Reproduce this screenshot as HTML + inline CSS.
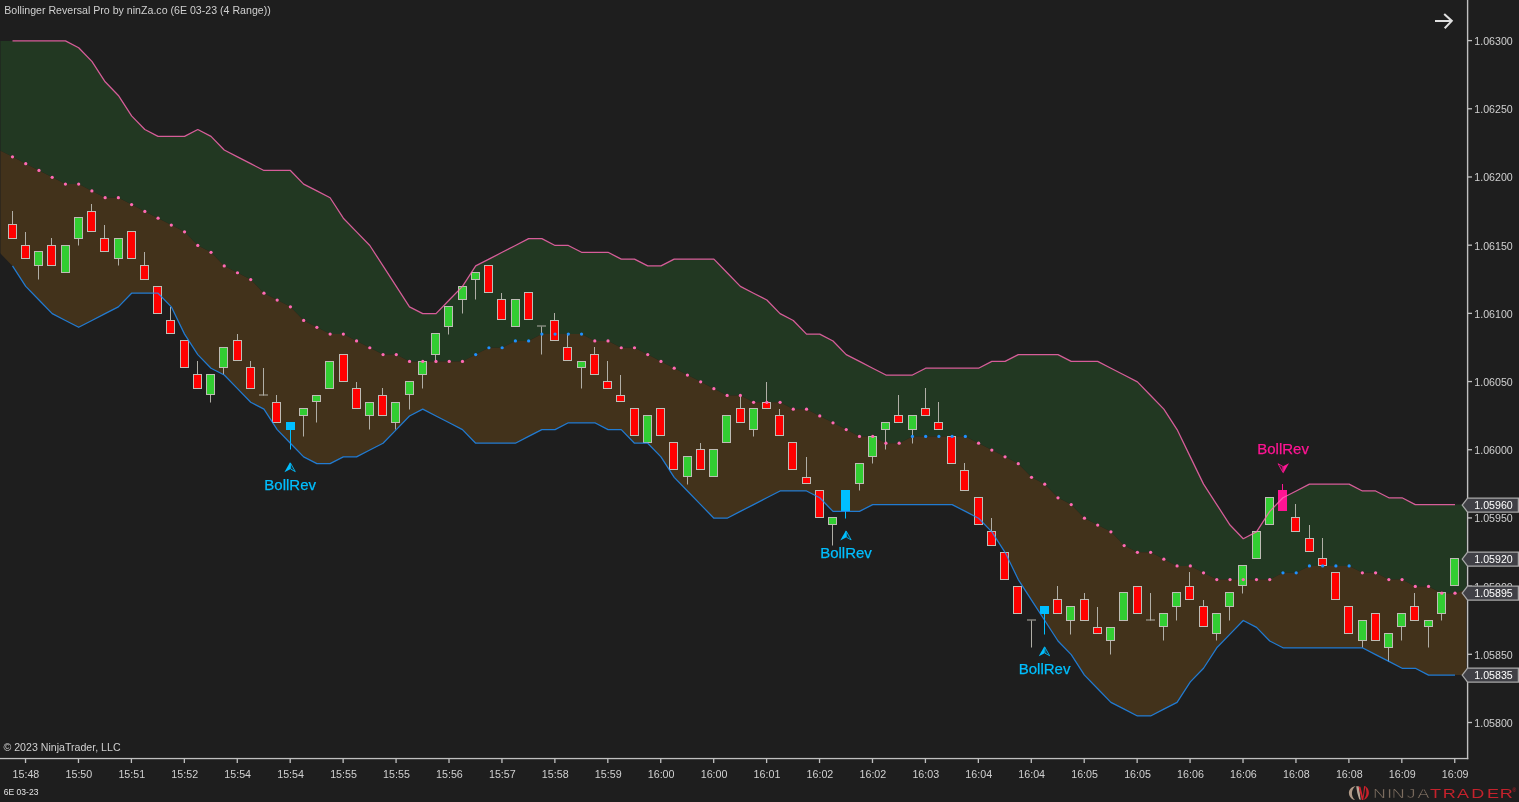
<!DOCTYPE html>
<html lang="en"><head><meta charset="utf-8"><title>Bollinger Reversal Pro by ninZa.co</title>
<style>html,body{margin:0;padding:0;background:#1e1e1e;overflow:hidden}svg{display:block}</style></head>
<body>
<svg width="1519" height="802" viewBox="0 0 1519 802" font-family="'Liberation Sans', Arial, sans-serif">
<rect width="1519" height="802" fill="#1e1e1e"/>
<clipPath id="plot"><rect x="0.5" y="0" width="1466" height="758.7"/></clipPath>
<g clip-path="url(#plot)">
<polygon points="-0.73,40.9 12.5,40.9 25.73,40.9 38.97,40.9 52.2,40.9 65.44,40.9 78.67,47.72 91.9,61.36 105.14,81.81 118.37,95.45 131.61,115.91 144.84,129.55 158.07,136.37 171.31,136.37 184.54,136.37 197.78,129.55 211.01,136.37 224.24,150 237.48,156.82 250.71,163.64 263.95,170.46 277.18,170.46 290.41,170.46 303.65,184.1 316.88,190.92 330.12,197.74 343.35,218.19 356.58,231.83 369.82,245.47 383.05,265.93 396.29,286.38 409.52,306.84 422.75,313.66 435.99,313.66 449.22,300.02 462.46,286.38 475.69,265.93 488.92,259.11 502.16,252.29 515.39,245.47 528.63,238.65 541.86,238.65 555.09,245.47 568.33,245.47 581.56,252.29 594.8,252.29 608.03,252.29 621.26,259.11 634.5,259.11 647.73,265.93 660.97,265.93 674.2,259.11 687.43,259.11 700.67,259.11 713.9,259.11 727.14,272.75 740.37,286.38 753.6,293.2 766.84,300.02 780.07,313.66 793.31,320.48 806.54,334.12 819.77,334.12 833.01,340.94 846.24,354.57 859.48,361.39 872.71,368.21 885.94,375.03 899.18,375.03 912.41,375.03 925.65,368.21 938.88,368.21 952.11,368.21 965.35,368.21 978.58,368.21 991.82,361.39 1005.05,361.39 1018.28,354.57 1031.52,354.57 1044.75,354.57 1057.99,354.57 1071.22,361.39 1084.45,361.39 1097.69,361.39 1110.92,368.21 1124.16,375.03 1137.39,381.85 1150.62,395.49 1163.86,409.13 1177.09,429.58 1190.33,456.86 1203.56,484.13 1216.79,504.59 1230.03,525.05 1243.26,538.69 1256.5,531.87 1269.73,511.41 1282.96,497.77 1296.2,490.95 1309.43,484.13 1322.67,484.13 1335.9,484.13 1349.13,484.13 1362.37,490.95 1375.6,490.95 1388.84,497.77 1402.07,497.77 1415.3,504.59 1428.54,504.59 1441.77,504.59 1455.01,504.59 1468.24,504.59 1468.24,589.15 1455.01,593.24 1441.77,593.24 1428.54,586.42 1415.3,586.42 1402.07,579.6 1388.84,579.6 1375.6,572.78 1362.37,572.78 1349.13,565.96 1335.9,565.96 1322.67,565.96 1309.43,565.96 1296.2,572.78 1282.96,572.78 1269.73,579.6 1256.5,579.6 1243.26,579.6 1230.03,579.6 1216.79,579.6 1203.56,572.78 1190.33,565.96 1177.09,565.96 1163.86,559.14 1150.62,552.33 1137.39,552.33 1124.16,545.51 1110.92,531.87 1097.69,525.05 1084.45,518.23 1071.22,504.59 1057.99,497.77 1044.75,484.13 1031.52,477.32 1018.28,463.68 1005.05,456.86 991.82,450.04 978.58,443.22 965.35,436.4 952.11,436.4 938.88,436.4 925.65,436.4 912.41,436.4 899.18,443.22 885.94,443.22 872.71,436.4 859.48,436.4 846.24,429.58 833.01,422.76 819.77,415.94 806.54,409.13 793.31,409.13 780.07,402.31 766.84,402.31 753.6,402.31 740.37,395.49 727.14,395.49 713.9,388.67 700.67,381.85 687.43,375.03 674.2,368.21 660.97,361.39 647.73,354.57 634.5,347.75 621.26,347.75 608.03,340.94 594.8,340.94 581.56,334.12 568.33,334.12 555.09,334.12 541.86,334.12 528.63,340.94 515.39,340.94 502.16,347.75 488.92,347.75 475.69,354.57 462.46,361.39 449.22,361.39 435.99,361.39 422.75,361.39 409.52,361.39 396.29,354.57 383.05,354.57 369.82,347.75 356.58,340.94 343.35,334.12 330.12,334.12 316.88,327.3 303.65,320.48 290.41,306.84 277.18,300.02 263.95,293.2 250.71,279.56 237.48,272.75 224.24,265.93 211.01,252.29 197.78,245.47 184.54,231.83 171.31,225.01 158.07,218.19 144.84,211.38 131.61,204.56 118.37,197.74 105.14,197.74 91.9,190.92 78.67,184.1 65.44,184.1 52.2,177.28 38.97,170.46 25.73,163.64 12.5,156.82 -0.73,150" fill="#223822"/>
<polygon points="-0.73,150 12.5,156.82 25.73,163.64 38.97,170.46 52.2,177.28 65.44,184.1 78.67,184.1 91.9,190.92 105.14,197.74 118.37,197.74 131.61,204.56 144.84,211.38 158.07,218.19 171.31,225.01 184.54,231.83 197.78,245.47 211.01,252.29 224.24,265.93 237.48,272.75 250.71,279.56 263.95,293.2 277.18,300.02 290.41,306.84 303.65,320.48 316.88,327.3 330.12,334.12 343.35,334.12 356.58,340.94 369.82,347.75 383.05,354.57 396.29,354.57 409.52,361.39 422.75,361.39 435.99,361.39 449.22,361.39 462.46,361.39 475.69,354.57 488.92,347.75 502.16,347.75 515.39,340.94 528.63,340.94 541.86,334.12 555.09,334.12 568.33,334.12 581.56,334.12 594.8,340.94 608.03,340.94 621.26,347.75 634.5,347.75 647.73,354.57 660.97,361.39 674.2,368.21 687.43,375.03 700.67,381.85 713.9,388.67 727.14,395.49 740.37,395.49 753.6,402.31 766.84,402.31 780.07,402.31 793.31,409.13 806.54,409.13 819.77,415.94 833.01,422.76 846.24,429.58 859.48,436.4 872.71,436.4 885.94,443.22 899.18,443.22 912.41,436.4 925.65,436.4 938.88,436.4 952.11,436.4 965.35,436.4 978.58,443.22 991.82,450.04 1005.05,456.86 1018.28,463.68 1031.52,477.32 1044.75,484.13 1057.99,497.77 1071.22,504.59 1084.45,518.23 1097.69,525.05 1110.92,531.87 1124.16,545.51 1137.39,552.33 1150.62,552.33 1163.86,559.14 1177.09,565.96 1190.33,565.96 1203.56,572.78 1216.79,579.6 1230.03,579.6 1243.26,579.6 1256.5,579.6 1269.73,579.6 1282.96,572.78 1296.2,572.78 1309.43,565.96 1322.67,565.96 1335.9,565.96 1349.13,565.96 1362.37,572.78 1375.6,572.78 1388.84,579.6 1402.07,579.6 1415.3,586.42 1428.54,586.42 1441.77,593.24 1455.01,593.24 1468.24,589.15 1468.24,675.07 1455.01,675.07 1441.77,675.07 1428.54,675.07 1415.3,668.25 1402.07,668.25 1388.84,661.43 1375.6,654.61 1362.37,647.79 1349.13,647.79 1335.9,647.79 1322.67,647.79 1309.43,647.79 1296.2,647.79 1282.96,647.79 1269.73,640.97 1256.5,627.33 1243.26,620.51 1230.03,634.15 1216.79,647.79 1203.56,668.25 1190.33,681.89 1177.09,702.34 1163.86,709.16 1150.62,715.98 1137.39,715.98 1124.16,709.16 1110.92,702.34 1097.69,688.7 1084.45,675.07 1071.22,654.61 1057.99,640.97 1044.75,620.51 1031.52,600.06 1018.28,579.6 1005.05,552.33 991.82,531.87 978.58,518.23 965.35,511.41 952.11,504.59 938.88,504.59 925.65,504.59 912.41,504.59 899.18,504.59 885.94,504.59 872.71,504.59 859.48,511.41 846.24,511.41 833.01,511.41 819.77,497.77 806.54,490.95 793.31,490.95 780.07,490.95 766.84,497.77 753.6,504.59 740.37,511.41 727.14,518.23 713.9,518.23 700.67,504.59 687.43,490.95 674.2,477.32 660.97,456.86 647.73,443.22 634.5,443.22 621.26,429.58 608.03,429.58 594.8,422.76 581.56,422.76 568.33,422.76 555.09,429.58 541.86,429.58 528.63,436.4 515.39,443.22 502.16,443.22 488.92,443.22 475.69,443.22 462.46,429.58 449.22,422.76 435.99,415.94 422.75,409.13 409.52,415.94 396.29,429.58 383.05,443.22 369.82,450.04 356.58,456.86 343.35,456.86 330.12,463.68 316.88,463.68 303.65,456.86 290.41,443.22 277.18,429.58 263.95,409.13 250.71,402.31 237.48,388.67 224.24,375.03 211.01,368.21 197.78,354.57 184.54,334.12 171.31,306.84 158.07,293.2 144.84,293.2 131.61,293.2 118.37,306.84 105.14,313.66 91.9,320.48 78.67,327.3 65.44,320.48 52.2,313.66 38.97,300.02 25.73,286.38 12.5,265.93 -0.73,252.29" fill="#42321b"/>
</g>
<g shape-rendering="auto">
<rect x="12" y="211" width="1" height="13.5" fill="#b0aea6"/>
<rect x="8.5" y="224.5" width="8" height="14" fill="#ff0000" stroke="#bebcb5" stroke-width="1"/>
<rect x="25" y="232" width="1" height="13.5" fill="#b0aea6"/>
<rect x="21.5" y="245.5" width="8" height="13" fill="#ff0000" stroke="#bebcb5" stroke-width="1"/>
<rect x="38" y="265.5" width="1" height="14" fill="#b0aea6"/>
<rect x="34.5" y="251.5" width="8" height="14" fill="#32cd32" stroke="#bebcb5" stroke-width="1"/>
<rect x="51" y="238" width="1" height="7.5" fill="#b0aea6"/>
<rect x="47.5" y="245.5" width="8" height="20" fill="#ff0000" stroke="#bebcb5" stroke-width="1"/>
<rect x="61.5" y="245.5" width="8" height="27" fill="#32cd32" stroke="#bebcb5" stroke-width="1"/>
<rect x="78" y="238.5" width="1" height="7" fill="#b0aea6"/>
<rect x="74.5" y="217.5" width="8" height="21" fill="#32cd32" stroke="#bebcb5" stroke-width="1"/>
<rect x="91" y="204" width="1" height="7.5" fill="#b0aea6"/>
<rect x="87.5" y="211.5" width="8" height="20" fill="#ff0000" stroke="#bebcb5" stroke-width="1"/>
<rect x="104" y="225" width="1" height="13.5" fill="#b0aea6"/>
<rect x="100.5" y="238.5" width="8" height="13" fill="#ff0000" stroke="#bebcb5" stroke-width="1"/>
<rect x="118" y="258.5" width="1" height="7" fill="#b0aea6"/>
<rect x="114.5" y="238.5" width="8" height="20" fill="#32cd32" stroke="#bebcb5" stroke-width="1"/>
<rect x="127.5" y="231.5" width="8" height="27" fill="#ff0000" stroke="#bebcb5" stroke-width="1"/>
<rect x="144" y="252" width="1" height="13.5" fill="#b0aea6"/>
<rect x="140.5" y="265.5" width="8" height="14" fill="#ff0000" stroke="#bebcb5" stroke-width="1"/>
<rect x="153.5" y="286.5" width="8" height="27" fill="#ff0000" stroke="#bebcb5" stroke-width="1"/>
<rect x="170" y="307" width="1" height="13.5" fill="#b0aea6"/>
<rect x="166.5" y="320.5" width="8" height="13" fill="#ff0000" stroke="#bebcb5" stroke-width="1"/>
<rect x="180.5" y="340.5" width="8" height="27" fill="#ff0000" stroke="#bebcb5" stroke-width="1"/>
<rect x="197" y="361" width="1" height="13.5" fill="#b0aea6"/>
<rect x="193.5" y="374.5" width="8" height="14" fill="#ff0000" stroke="#bebcb5" stroke-width="1"/>
<rect x="210" y="394.5" width="1" height="8" fill="#b0aea6"/>
<rect x="206.5" y="374.5" width="8" height="20" fill="#32cd32" stroke="#bebcb5" stroke-width="1"/>
<rect x="223" y="367.5" width="1" height="7" fill="#b0aea6"/>
<rect x="219.5" y="347.5" width="8" height="20" fill="#32cd32" stroke="#bebcb5" stroke-width="1"/>
<rect x="237" y="334" width="1" height="6.5" fill="#b0aea6"/>
<rect x="233.5" y="340.5" width="8" height="20" fill="#ff0000" stroke="#bebcb5" stroke-width="1"/>
<rect x="250" y="361" width="1" height="6.5" fill="#b0aea6"/>
<rect x="246.5" y="367.5" width="8" height="21" fill="#ff0000" stroke="#bebcb5" stroke-width="1"/>
<rect x="263" y="368" width="1" height="27.5" fill="#b0aea6"/>
<rect x="259" y="394.5" width="9" height="1" fill="#b0aea6"/>
<rect x="276" y="395" width="1" height="7.5" fill="#b0aea6"/>
<rect x="272.5" y="402.5" width="8" height="20" fill="#ff0000" stroke="#bebcb5" stroke-width="1"/>
<rect x="290" y="429.5" width="1" height="20" fill="#00bfff"/>
<rect x="286.5" y="422.5" width="8" height="7" fill="#00bfff" stroke="#00bfff" stroke-width="1"/>
<rect x="303" y="415.5" width="1" height="21" fill="#b0aea6"/>
<rect x="299.5" y="408.5" width="8" height="7" fill="#32cd32" stroke="#bebcb5" stroke-width="1"/>
<rect x="316" y="401.5" width="1" height="21" fill="#b0aea6"/>
<rect x="312.5" y="395.5" width="8" height="6" fill="#32cd32" stroke="#bebcb5" stroke-width="1"/>
<rect x="325.5" y="361.5" width="8" height="27" fill="#32cd32" stroke="#bebcb5" stroke-width="1"/>
<rect x="339.5" y="354.5" width="8" height="27" fill="#ff0000" stroke="#bebcb5" stroke-width="1"/>
<rect x="356" y="382" width="1" height="6.5" fill="#b0aea6"/>
<rect x="352.5" y="388.5" width="8" height="20" fill="#ff0000" stroke="#bebcb5" stroke-width="1"/>
<rect x="369" y="415.5" width="1" height="14" fill="#b0aea6"/>
<rect x="365.5" y="402.5" width="8" height="13" fill="#32cd32" stroke="#bebcb5" stroke-width="1"/>
<rect x="382" y="388" width="1" height="7.5" fill="#b0aea6"/>
<rect x="378.5" y="395.5" width="8" height="20" fill="#ff0000" stroke="#bebcb5" stroke-width="1"/>
<rect x="395" y="422.5" width="1" height="7" fill="#b0aea6"/>
<rect x="391.5" y="402.5" width="8" height="20" fill="#32cd32" stroke="#bebcb5" stroke-width="1"/>
<rect x="409" y="394.5" width="1" height="15" fill="#b0aea6"/>
<rect x="405.5" y="381.5" width="8" height="13" fill="#32cd32" stroke="#bebcb5" stroke-width="1"/>
<rect x="422" y="374.5" width="1" height="14" fill="#b0aea6"/>
<rect x="418.5" y="361.5" width="8" height="13" fill="#32cd32" stroke="#bebcb5" stroke-width="1"/>
<rect x="435" y="354.5" width="1" height="7" fill="#b0aea6"/>
<rect x="431.5" y="333.5" width="8" height="21" fill="#32cd32" stroke="#bebcb5" stroke-width="1"/>
<rect x="448" y="326.5" width="1" height="8" fill="#b0aea6"/>
<rect x="444.5" y="306.5" width="8" height="20" fill="#32cd32" stroke="#bebcb5" stroke-width="1"/>
<rect x="462" y="299.5" width="1" height="14" fill="#b0aea6"/>
<rect x="458.5" y="286.5" width="8" height="13" fill="#32cd32" stroke="#bebcb5" stroke-width="1"/>
<rect x="475" y="279.5" width="1" height="20" fill="#b0aea6"/>
<rect x="471.5" y="272.5" width="8" height="7" fill="#32cd32" stroke="#bebcb5" stroke-width="1"/>
<rect x="484.5" y="265.5" width="8" height="27" fill="#ff0000" stroke="#bebcb5" stroke-width="1"/>
<rect x="501" y="293" width="1" height="6.5" fill="#b0aea6"/>
<rect x="497.5" y="299.5" width="8" height="20" fill="#ff0000" stroke="#bebcb5" stroke-width="1"/>
<rect x="511.5" y="299.5" width="8" height="27" fill="#32cd32" stroke="#bebcb5" stroke-width="1"/>
<rect x="524.5" y="292.5" width="8" height="27" fill="#ff0000" stroke="#bebcb5" stroke-width="1"/>
<rect x="541" y="326.5" width="1" height="28" fill="#b0aea6"/>
<rect x="537" y="325.5" width="9" height="1" fill="#b0aea6"/>
<rect x="554" y="313" width="1" height="7.5" fill="#b0aea6"/>
<rect x="550.5" y="320.5" width="8" height="20" fill="#ff0000" stroke="#bebcb5" stroke-width="1"/>
<rect x="567" y="334" width="1" height="13.5" fill="#b0aea6"/>
<rect x="563.5" y="347.5" width="8" height="13" fill="#ff0000" stroke="#bebcb5" stroke-width="1"/>
<rect x="581" y="367.5" width="1" height="21" fill="#b0aea6"/>
<rect x="577.5" y="361.5" width="8" height="6" fill="#32cd32" stroke="#bebcb5" stroke-width="1"/>
<rect x="594" y="347" width="1" height="7.5" fill="#b0aea6"/>
<rect x="590.5" y="354.5" width="8" height="20" fill="#ff0000" stroke="#bebcb5" stroke-width="1"/>
<rect x="607" y="361" width="1" height="20.5" fill="#b0aea6"/>
<rect x="603.5" y="381.5" width="8" height="7" fill="#ff0000" stroke="#bebcb5" stroke-width="1"/>
<rect x="620" y="375" width="1" height="20.5" fill="#b0aea6"/>
<rect x="616.5" y="395.5" width="8" height="6" fill="#ff0000" stroke="#bebcb5" stroke-width="1"/>
<rect x="630.5" y="408.5" width="8" height="27" fill="#ff0000" stroke="#bebcb5" stroke-width="1"/>
<rect x="643.5" y="415.5" width="8" height="27" fill="#32cd32" stroke="#bebcb5" stroke-width="1"/>
<rect x="656.5" y="408.5" width="8" height="27" fill="#ff0000" stroke="#bebcb5" stroke-width="1"/>
<rect x="669.5" y="442.5" width="8" height="27" fill="#ff0000" stroke="#bebcb5" stroke-width="1"/>
<rect x="687" y="476.5" width="1" height="8" fill="#b0aea6"/>
<rect x="683.5" y="456.5" width="8" height="20" fill="#32cd32" stroke="#bebcb5" stroke-width="1"/>
<rect x="700" y="443" width="1" height="6.5" fill="#b0aea6"/>
<rect x="696.5" y="449.5" width="8" height="20" fill="#ff0000" stroke="#bebcb5" stroke-width="1"/>
<rect x="709.5" y="449.5" width="8" height="27" fill="#32cd32" stroke="#bebcb5" stroke-width="1"/>
<rect x="722.5" y="415.5" width="8" height="27" fill="#32cd32" stroke="#bebcb5" stroke-width="1"/>
<rect x="740" y="395" width="1" height="13.5" fill="#b0aea6"/>
<rect x="736.5" y="408.5" width="8" height="14" fill="#ff0000" stroke="#bebcb5" stroke-width="1"/>
<rect x="753" y="429.5" width="1" height="7" fill="#b0aea6"/>
<rect x="749.5" y="408.5" width="8" height="21" fill="#32cd32" stroke="#bebcb5" stroke-width="1"/>
<rect x="766" y="382" width="1" height="20.5" fill="#b0aea6"/>
<rect x="762.5" y="402.5" width="8" height="6" fill="#ff0000" stroke="#bebcb5" stroke-width="1"/>
<rect x="779" y="409" width="1" height="6.5" fill="#b0aea6"/>
<rect x="775.5" y="415.5" width="8" height="20" fill="#ff0000" stroke="#bebcb5" stroke-width="1"/>
<rect x="788.5" y="442.5" width="8" height="27" fill="#ff0000" stroke="#bebcb5" stroke-width="1"/>
<rect x="806" y="457" width="1" height="20.5" fill="#b0aea6"/>
<rect x="802.5" y="477.5" width="8" height="6" fill="#ff0000" stroke="#bebcb5" stroke-width="1"/>
<rect x="815.5" y="490.5" width="8" height="27" fill="#ff0000" stroke="#bebcb5" stroke-width="1"/>
<rect x="832" y="524.5" width="1" height="21" fill="#b0aea6"/>
<rect x="828.5" y="517.5" width="8" height="7" fill="#32cd32" stroke="#bebcb5" stroke-width="1"/>
<rect x="845" y="510.5" width="1" height="8" fill="#00bfff"/>
<rect x="841.5" y="490.5" width="8" height="20" fill="#00bfff" stroke="#00bfff" stroke-width="1"/>
<rect x="859" y="483.5" width="1" height="7" fill="#b0aea6"/>
<rect x="855.5" y="463.5" width="8" height="20" fill="#32cd32" stroke="#bebcb5" stroke-width="1"/>
<rect x="872" y="456.5" width="1" height="7" fill="#b0aea6"/>
<rect x="868.5" y="436.5" width="8" height="20" fill="#32cd32" stroke="#bebcb5" stroke-width="1"/>
<rect x="885" y="429.5" width="1" height="20" fill="#b0aea6"/>
<rect x="881.5" y="422.5" width="8" height="7" fill="#32cd32" stroke="#bebcb5" stroke-width="1"/>
<rect x="898" y="395" width="1" height="20.5" fill="#b0aea6"/>
<rect x="894.5" y="415.5" width="8" height="7" fill="#ff0000" stroke="#bebcb5" stroke-width="1"/>
<rect x="912" y="429.5" width="1" height="14" fill="#b0aea6"/>
<rect x="908.5" y="415.5" width="8" height="14" fill="#32cd32" stroke="#bebcb5" stroke-width="1"/>
<rect x="925" y="388" width="1" height="20.5" fill="#b0aea6"/>
<rect x="921.5" y="408.5" width="8" height="7" fill="#ff0000" stroke="#bebcb5" stroke-width="1"/>
<rect x="938" y="402" width="1" height="20.5" fill="#b0aea6"/>
<rect x="934.5" y="422.5" width="8" height="7" fill="#ff0000" stroke="#bebcb5" stroke-width="1"/>
<rect x="947.5" y="436.5" width="8" height="27" fill="#ff0000" stroke="#bebcb5" stroke-width="1"/>
<rect x="964" y="463" width="1" height="7.5" fill="#b0aea6"/>
<rect x="960.5" y="470.5" width="8" height="20" fill="#ff0000" stroke="#bebcb5" stroke-width="1"/>
<rect x="974.5" y="497.5" width="8" height="27" fill="#ff0000" stroke="#bebcb5" stroke-width="1"/>
<rect x="991" y="518" width="1" height="13.5" fill="#b0aea6"/>
<rect x="987.5" y="531.5" width="8" height="14" fill="#ff0000" stroke="#bebcb5" stroke-width="1"/>
<rect x="1000.5" y="552.5" width="8" height="27" fill="#ff0000" stroke="#bebcb5" stroke-width="1"/>
<rect x="1013.5" y="586.5" width="8" height="27" fill="#ff0000" stroke="#bebcb5" stroke-width="1"/>
<rect x="1031" y="620.5" width="1" height="27" fill="#b0aea6"/>
<rect x="1027" y="619.5" width="9" height="1" fill="#b0aea6"/>
<rect x="1044" y="613.5" width="1" height="21" fill="#00bfff"/>
<rect x="1040.5" y="606.5" width="8" height="7" fill="#00bfff" stroke="#00bfff" stroke-width="1"/>
<rect x="1057" y="586" width="1" height="13.5" fill="#b0aea6"/>
<rect x="1053.5" y="599.5" width="8" height="14" fill="#ff0000" stroke="#bebcb5" stroke-width="1"/>
<rect x="1070" y="620.5" width="1" height="14" fill="#b0aea6"/>
<rect x="1066.5" y="606.5" width="8" height="14" fill="#32cd32" stroke="#bebcb5" stroke-width="1"/>
<rect x="1084" y="593" width="1" height="6.5" fill="#b0aea6"/>
<rect x="1080.5" y="599.5" width="8" height="21" fill="#ff0000" stroke="#bebcb5" stroke-width="1"/>
<rect x="1097" y="607" width="1" height="20.5" fill="#b0aea6"/>
<rect x="1093.5" y="627.5" width="8" height="6" fill="#ff0000" stroke="#bebcb5" stroke-width="1"/>
<rect x="1110" y="640.5" width="1" height="14" fill="#b0aea6"/>
<rect x="1106.5" y="627.5" width="8" height="13" fill="#32cd32" stroke="#bebcb5" stroke-width="1"/>
<rect x="1119.5" y="592.5" width="8" height="28" fill="#32cd32" stroke="#bebcb5" stroke-width="1"/>
<rect x="1133.5" y="586.5" width="8" height="27" fill="#ff0000" stroke="#bebcb5" stroke-width="1"/>
<rect x="1150" y="593" width="1" height="27.5" fill="#b0aea6"/>
<rect x="1146" y="619.5" width="9" height="1" fill="#b0aea6"/>
<rect x="1163" y="626.5" width="1" height="14" fill="#b0aea6"/>
<rect x="1159.5" y="613.5" width="8" height="13" fill="#32cd32" stroke="#bebcb5" stroke-width="1"/>
<rect x="1176" y="606.5" width="1" height="14" fill="#b0aea6"/>
<rect x="1172.5" y="592.5" width="8" height="14" fill="#32cd32" stroke="#bebcb5" stroke-width="1"/>
<rect x="1189" y="572" width="1" height="14.5" fill="#b0aea6"/>
<rect x="1185.5" y="586.5" width="8" height="13" fill="#ff0000" stroke="#bebcb5" stroke-width="1"/>
<rect x="1203" y="600" width="1" height="6.5" fill="#b0aea6"/>
<rect x="1199.5" y="606.5" width="8" height="20" fill="#ff0000" stroke="#bebcb5" stroke-width="1"/>
<rect x="1216" y="633.5" width="1" height="7" fill="#b0aea6"/>
<rect x="1212.5" y="613.5" width="8" height="20" fill="#32cd32" stroke="#bebcb5" stroke-width="1"/>
<rect x="1229" y="606.5" width="1" height="14" fill="#b0aea6"/>
<rect x="1225.5" y="592.5" width="8" height="14" fill="#32cd32" stroke="#bebcb5" stroke-width="1"/>
<rect x="1242" y="585.5" width="1" height="8" fill="#b0aea6"/>
<rect x="1238.5" y="565.5" width="8" height="20" fill="#32cd32" stroke="#bebcb5" stroke-width="1"/>
<rect x="1252.5" y="531.5" width="8" height="27" fill="#32cd32" stroke="#bebcb5" stroke-width="1"/>
<rect x="1265.5" y="497.5" width="8" height="27" fill="#32cd32" stroke="#bebcb5" stroke-width="1"/>
<rect x="1282" y="484" width="1" height="6.5" fill="#ff1493"/>
<rect x="1278.5" y="490.5" width="8" height="20" fill="#ff1493" stroke="#ff1493" stroke-width="1"/>
<rect x="1295" y="504" width="1" height="13.5" fill="#b0aea6"/>
<rect x="1291.5" y="517.5" width="8" height="14" fill="#ff0000" stroke="#bebcb5" stroke-width="1"/>
<rect x="1309" y="525" width="1" height="13.5" fill="#b0aea6"/>
<rect x="1305.5" y="538.5" width="8" height="13" fill="#ff0000" stroke="#bebcb5" stroke-width="1"/>
<rect x="1322" y="538" width="1" height="20.5" fill="#b0aea6"/>
<rect x="1318.5" y="558.5" width="8" height="7" fill="#ff0000" stroke="#bebcb5" stroke-width="1"/>
<rect x="1331.5" y="572.5" width="8" height="27" fill="#ff0000" stroke="#bebcb5" stroke-width="1"/>
<rect x="1344.5" y="606.5" width="8" height="27" fill="#ff0000" stroke="#bebcb5" stroke-width="1"/>
<rect x="1362" y="640.5" width="1" height="7" fill="#b0aea6"/>
<rect x="1358.5" y="620.5" width="8" height="20" fill="#32cd32" stroke="#bebcb5" stroke-width="1"/>
<rect x="1371.5" y="613.5" width="8" height="27" fill="#ff0000" stroke="#bebcb5" stroke-width="1"/>
<rect x="1388" y="647.5" width="1" height="14" fill="#b0aea6"/>
<rect x="1384.5" y="633.5" width="8" height="14" fill="#32cd32" stroke="#bebcb5" stroke-width="1"/>
<rect x="1401" y="626.5" width="1" height="14" fill="#b0aea6"/>
<rect x="1397.5" y="613.5" width="8" height="13" fill="#32cd32" stroke="#bebcb5" stroke-width="1"/>
<rect x="1414" y="593" width="1" height="13.5" fill="#b0aea6"/>
<rect x="1410.5" y="606.5" width="8" height="14" fill="#ff0000" stroke="#bebcb5" stroke-width="1"/>
<rect x="1428" y="626.5" width="1" height="21" fill="#b0aea6"/>
<rect x="1424.5" y="620.5" width="8" height="6" fill="#32cd32" stroke="#bebcb5" stroke-width="1"/>
<rect x="1441" y="613.5" width="1" height="7" fill="#b0aea6"/>
<rect x="1437.5" y="592.5" width="8" height="21" fill="#32cd32" stroke="#bebcb5" stroke-width="1"/>
<rect x="1450.5" y="558.5" width="8" height="27" fill="#32cd32" stroke="#bebcb5" stroke-width="1"/>
</g>
<polyline points="12.5,40.9 25.73,40.9 38.97,40.9 52.2,40.9 65.44,40.9 78.67,47.72 91.9,61.36 105.14,81.81 118.37,95.45 131.61,115.91 144.84,129.55 158.07,136.37 171.31,136.37 184.54,136.37 197.78,129.55 211.01,136.37 224.24,150 237.48,156.82 250.71,163.64 263.95,170.46 277.18,170.46 290.41,170.46 303.65,184.1 316.88,190.92 330.12,197.74 343.35,218.19 356.58,231.83 369.82,245.47 383.05,265.93 396.29,286.38 409.52,306.84 422.75,313.66 435.99,313.66 449.22,300.02 462.46,286.38 475.69,265.93 488.92,259.11 502.16,252.29 515.39,245.47 528.63,238.65 541.86,238.65 555.09,245.47 568.33,245.47 581.56,252.29 594.8,252.29 608.03,252.29 621.26,259.11 634.5,259.11 647.73,265.93 660.97,265.93 674.2,259.11 687.43,259.11 700.67,259.11 713.9,259.11 727.14,272.75 740.37,286.38 753.6,293.2 766.84,300.02 780.07,313.66 793.31,320.48 806.54,334.12 819.77,334.12 833.01,340.94 846.24,354.57 859.48,361.39 872.71,368.21 885.94,375.03 899.18,375.03 912.41,375.03 925.65,368.21 938.88,368.21 952.11,368.21 965.35,368.21 978.58,368.21 991.82,361.39 1005.05,361.39 1018.28,354.57 1031.52,354.57 1044.75,354.57 1057.99,354.57 1071.22,361.39 1084.45,361.39 1097.69,361.39 1110.92,368.21 1124.16,375.03 1137.39,381.85 1150.62,395.49 1163.86,409.13 1177.09,429.58 1190.33,456.86 1203.56,484.13 1216.79,504.59 1230.03,525.05 1243.26,538.69 1256.5,531.87 1269.73,511.41 1282.96,497.77 1296.2,490.95 1309.43,484.13 1322.67,484.13 1335.9,484.13 1349.13,484.13 1362.37,490.95 1375.6,490.95 1388.84,497.77 1402.07,497.77 1415.3,504.59 1428.54,504.59 1441.77,504.59 1455.01,504.59" fill="none" stroke="#ff69b4" stroke-width="1.25" stroke-linejoin="round" stroke-opacity="0.82"/>
<polyline points="12.5,265.93 25.73,286.38 38.97,300.02 52.2,313.66 65.44,320.48 78.67,327.3 91.9,320.48 105.14,313.66 118.37,306.84 131.61,293.2 144.84,293.2 158.07,293.2 171.31,306.84 184.54,334.12 197.78,354.57 211.01,368.21 224.24,375.03 237.48,388.67 250.71,402.31 263.95,409.13 277.18,429.58 290.41,443.22 303.65,456.86 316.88,463.68 330.12,463.68 343.35,456.86 356.58,456.86 369.82,450.04 383.05,443.22 396.29,429.58 409.52,415.94 422.75,409.13 435.99,415.94 449.22,422.76 462.46,429.58 475.69,443.22 488.92,443.22 502.16,443.22 515.39,443.22 528.63,436.4 541.86,429.58 555.09,429.58 568.33,422.76 581.56,422.76 594.8,422.76 608.03,429.58 621.26,429.58 634.5,443.22 647.73,443.22 660.97,456.86 674.2,477.32 687.43,490.95 700.67,504.59 713.9,518.23 727.14,518.23 740.37,511.41 753.6,504.59 766.84,497.77 780.07,490.95 793.31,490.95 806.54,490.95 819.77,497.77 833.01,511.41 846.24,511.41 859.48,511.41 872.71,504.59 885.94,504.59 899.18,504.59 912.41,504.59 925.65,504.59 938.88,504.59 952.11,504.59 965.35,511.41 978.58,518.23 991.82,531.87 1005.05,552.33 1018.28,579.6 1031.52,600.06 1044.75,620.51 1057.99,640.97 1071.22,654.61 1084.45,675.07 1097.69,688.7 1110.92,702.34 1124.16,709.16 1137.39,715.98 1150.62,715.98 1163.86,709.16 1177.09,702.34 1190.33,681.89 1203.56,668.25 1216.79,647.79 1230.03,634.15 1243.26,620.51 1256.5,627.33 1269.73,640.97 1282.96,647.79 1296.2,647.79 1309.43,647.79 1322.67,647.79 1335.9,647.79 1349.13,647.79 1362.37,647.79 1375.6,654.61 1388.84,661.43 1402.07,668.25 1415.3,668.25 1428.54,675.07 1441.77,675.07 1455.01,675.07" fill="none" stroke="#1e90ff" stroke-width="1.25" stroke-linejoin="round" stroke-opacity="0.8"/>
<circle cx="12.5" cy="156.82" r="1.62" fill="#ff69b4"/>
<circle cx="25.73" cy="163.64" r="1.62" fill="#ff69b4"/>
<circle cx="38.97" cy="170.46" r="1.62" fill="#ff69b4"/>
<circle cx="52.2" cy="177.28" r="1.62" fill="#ff69b4"/>
<circle cx="65.44" cy="184.1" r="1.62" fill="#ff69b4"/>
<circle cx="78.67" cy="184.1" r="1.62" fill="#ff69b4"/>
<circle cx="91.9" cy="190.92" r="1.62" fill="#ff69b4"/>
<circle cx="105.14" cy="197.74" r="1.62" fill="#ff69b4"/>
<circle cx="118.37" cy="197.74" r="1.62" fill="#ff69b4"/>
<circle cx="131.61" cy="204.56" r="1.62" fill="#ff69b4"/>
<circle cx="144.84" cy="211.38" r="1.62" fill="#ff69b4"/>
<circle cx="158.07" cy="218.19" r="1.62" fill="#ff69b4"/>
<circle cx="171.31" cy="225.01" r="1.62" fill="#ff69b4"/>
<circle cx="184.54" cy="231.83" r="1.62" fill="#ff69b4"/>
<circle cx="197.78" cy="245.47" r="1.62" fill="#ff69b4"/>
<circle cx="211.01" cy="252.29" r="1.62" fill="#ff69b4"/>
<circle cx="224.24" cy="265.93" r="1.62" fill="#ff69b4"/>
<circle cx="237.48" cy="272.75" r="1.62" fill="#ff69b4"/>
<circle cx="250.71" cy="279.56" r="1.62" fill="#ff69b4"/>
<circle cx="263.95" cy="293.2" r="1.62" fill="#ff69b4"/>
<circle cx="277.18" cy="300.02" r="1.62" fill="#ff69b4"/>
<circle cx="290.41" cy="306.84" r="1.62" fill="#ff69b4"/>
<circle cx="303.65" cy="320.48" r="1.62" fill="#ff69b4"/>
<circle cx="316.88" cy="327.3" r="1.62" fill="#ff69b4"/>
<circle cx="330.12" cy="334.12" r="1.62" fill="#ff69b4"/>
<circle cx="343.35" cy="334.12" r="1.62" fill="#ff69b4"/>
<circle cx="356.58" cy="340.94" r="1.62" fill="#ff69b4"/>
<circle cx="369.82" cy="347.75" r="1.62" fill="#ff69b4"/>
<circle cx="383.05" cy="354.57" r="1.62" fill="#ff69b4"/>
<circle cx="396.29" cy="354.57" r="1.62" fill="#ff69b4"/>
<circle cx="409.52" cy="361.39" r="1.62" fill="#ff69b4"/>
<circle cx="422.75" cy="361.39" r="1.62" fill="#ff69b4"/>
<circle cx="435.99" cy="361.39" r="1.62" fill="#ff69b4"/>
<circle cx="449.22" cy="361.39" r="1.62" fill="#ff69b4"/>
<circle cx="462.46" cy="361.39" r="1.62" fill="#ff69b4"/>
<circle cx="475.69" cy="354.57" r="1.62" fill="#1e90ff"/>
<circle cx="488.92" cy="347.75" r="1.62" fill="#1e90ff"/>
<circle cx="502.16" cy="347.75" r="1.62" fill="#1e90ff"/>
<circle cx="515.39" cy="340.94" r="1.62" fill="#1e90ff"/>
<circle cx="528.63" cy="340.94" r="1.62" fill="#1e90ff"/>
<circle cx="541.86" cy="334.12" r="1.62" fill="#1e90ff"/>
<circle cx="555.09" cy="334.12" r="1.62" fill="#1e90ff"/>
<circle cx="568.33" cy="334.12" r="1.62" fill="#1e90ff"/>
<circle cx="581.56" cy="334.12" r="1.62" fill="#1e90ff"/>
<circle cx="594.8" cy="340.94" r="1.62" fill="#ff69b4"/>
<circle cx="608.03" cy="340.94" r="1.62" fill="#ff69b4"/>
<circle cx="621.26" cy="347.75" r="1.62" fill="#ff69b4"/>
<circle cx="634.5" cy="347.75" r="1.62" fill="#ff69b4"/>
<circle cx="647.73" cy="354.57" r="1.62" fill="#ff69b4"/>
<circle cx="660.97" cy="361.39" r="1.62" fill="#ff69b4"/>
<circle cx="674.2" cy="368.21" r="1.62" fill="#ff69b4"/>
<circle cx="687.43" cy="375.03" r="1.62" fill="#ff69b4"/>
<circle cx="700.67" cy="381.85" r="1.62" fill="#ff69b4"/>
<circle cx="713.9" cy="388.67" r="1.62" fill="#ff69b4"/>
<circle cx="727.14" cy="395.49" r="1.62" fill="#ff69b4"/>
<circle cx="740.37" cy="395.49" r="1.62" fill="#ff69b4"/>
<circle cx="753.6" cy="402.31" r="1.62" fill="#ff69b4"/>
<circle cx="766.84" cy="402.31" r="1.62" fill="#ff69b4"/>
<circle cx="780.07" cy="402.31" r="1.62" fill="#ff69b4"/>
<circle cx="793.31" cy="409.13" r="1.62" fill="#ff69b4"/>
<circle cx="806.54" cy="409.13" r="1.62" fill="#ff69b4"/>
<circle cx="819.77" cy="415.94" r="1.62" fill="#ff69b4"/>
<circle cx="833.01" cy="422.76" r="1.62" fill="#ff69b4"/>
<circle cx="846.24" cy="429.58" r="1.62" fill="#ff69b4"/>
<circle cx="859.48" cy="436.4" r="1.62" fill="#ff69b4"/>
<circle cx="872.71" cy="436.4" r="1.62" fill="#ff69b4"/>
<circle cx="885.94" cy="443.22" r="1.62" fill="#ff69b4"/>
<circle cx="899.18" cy="443.22" r="1.62" fill="#ff69b4"/>
<circle cx="912.41" cy="436.4" r="1.62" fill="#1e90ff"/>
<circle cx="925.65" cy="436.4" r="1.62" fill="#1e90ff"/>
<circle cx="938.88" cy="436.4" r="1.62" fill="#1e90ff"/>
<circle cx="952.11" cy="436.4" r="1.62" fill="#1e90ff"/>
<circle cx="965.35" cy="436.4" r="1.62" fill="#1e90ff"/>
<circle cx="978.58" cy="443.22" r="1.62" fill="#ff69b4"/>
<circle cx="991.82" cy="450.04" r="1.62" fill="#ff69b4"/>
<circle cx="1005.05" cy="456.86" r="1.62" fill="#ff69b4"/>
<circle cx="1018.28" cy="463.68" r="1.62" fill="#ff69b4"/>
<circle cx="1031.52" cy="477.32" r="1.62" fill="#ff69b4"/>
<circle cx="1044.75" cy="484.13" r="1.62" fill="#ff69b4"/>
<circle cx="1057.99" cy="497.77" r="1.62" fill="#ff69b4"/>
<circle cx="1071.22" cy="504.59" r="1.62" fill="#ff69b4"/>
<circle cx="1084.45" cy="518.23" r="1.62" fill="#ff69b4"/>
<circle cx="1097.69" cy="525.05" r="1.62" fill="#ff69b4"/>
<circle cx="1110.92" cy="531.87" r="1.62" fill="#ff69b4"/>
<circle cx="1124.16" cy="545.51" r="1.62" fill="#ff69b4"/>
<circle cx="1137.39" cy="552.33" r="1.62" fill="#ff69b4"/>
<circle cx="1150.62" cy="552.33" r="1.62" fill="#ff69b4"/>
<circle cx="1163.86" cy="559.14" r="1.62" fill="#ff69b4"/>
<circle cx="1177.09" cy="565.96" r="1.62" fill="#ff69b4"/>
<circle cx="1190.33" cy="565.96" r="1.62" fill="#ff69b4"/>
<circle cx="1203.56" cy="572.78" r="1.62" fill="#ff69b4"/>
<circle cx="1216.79" cy="579.6" r="1.62" fill="#ff69b4"/>
<circle cx="1230.03" cy="579.6" r="1.62" fill="#ff69b4"/>
<circle cx="1243.26" cy="579.6" r="1.62" fill="#ff69b4"/>
<circle cx="1256.5" cy="579.6" r="1.62" fill="#ff69b4"/>
<circle cx="1269.73" cy="579.6" r="1.62" fill="#ff69b4"/>
<circle cx="1282.96" cy="572.78" r="1.62" fill="#1e90ff"/>
<circle cx="1296.2" cy="572.78" r="1.62" fill="#1e90ff"/>
<circle cx="1309.43" cy="565.96" r="1.62" fill="#1e90ff"/>
<circle cx="1322.67" cy="565.96" r="1.62" fill="#1e90ff"/>
<circle cx="1335.9" cy="565.96" r="1.62" fill="#1e90ff"/>
<circle cx="1349.13" cy="565.96" r="1.62" fill="#1e90ff"/>
<circle cx="1362.37" cy="572.78" r="1.62" fill="#ff69b4"/>
<circle cx="1375.6" cy="572.78" r="1.62" fill="#ff69b4"/>
<circle cx="1388.84" cy="579.6" r="1.62" fill="#ff69b4"/>
<circle cx="1402.07" cy="579.6" r="1.62" fill="#ff69b4"/>
<circle cx="1415.3" cy="586.42" r="1.62" fill="#ff69b4"/>
<circle cx="1428.54" cy="586.42" r="1.62" fill="#ff69b4"/>
<circle cx="1441.77" cy="593.24" r="1.62" fill="#ff69b4"/>
<circle cx="1455.01" cy="593.24" r="1.62" fill="#ff69b4"/>
<g transform="translate(290.21,467.14)" fill="#00bfff"><path d="M0,-5.2 L-5.8,5.1 L0,2.1 Z"/><path d="M0.2,-4.2 L5.1,4.5 L0.4,1.9 Z" fill="#00bfff" fill-opacity="0.12" stroke="#00bfff" stroke-width="0.85" stroke-linejoin="miter"/></g>
<text x="290.21" y="490" font-size="15" fill="#00bfff" stroke="#00bfff" stroke-width="0.25" text-anchor="middle">BollRev</text>
<g transform="translate(846.04,535.33)" fill="#00bfff"><path d="M0,-5.2 L-5.8,5.1 L0,2.1 Z"/><path d="M0.2,-4.2 L5.1,4.5 L0.4,1.9 Z" fill="#00bfff" fill-opacity="0.12" stroke="#00bfff" stroke-width="0.85" stroke-linejoin="miter"/></g>
<text x="846.04" y="558" font-size="15" fill="#00bfff" stroke="#00bfff" stroke-width="0.25" text-anchor="middle">BollRev</text>
<g transform="translate(1044.55,651.25)" fill="#00bfff"><path d="M0,-5.2 L-5.8,5.1 L0,2.1 Z"/><path d="M0.2,-4.2 L5.1,4.5 L0.4,1.9 Z" fill="#00bfff" fill-opacity="0.12" stroke="#00bfff" stroke-width="0.85" stroke-linejoin="miter"/></g>
<text x="1044.55" y="674" font-size="15" fill="#00bfff" stroke="#00bfff" stroke-width="0.25" text-anchor="middle">BollRev</text>
<g transform="translate(1283.16,468.24) rotate(180)" fill="#ff1493"><path d="M0,-5.2 L-5.8,5.1 L0,2.1 Z"/><path d="M0.2,-4.2 L5.1,4.5 L0.4,1.9 Z" fill="#ff1493" fill-opacity="0.12" stroke="#ff1493" stroke-width="0.85" stroke-linejoin="miter"/></g>
<text x="1283.06" y="454" font-size="15" fill="#ff1493" stroke="#ff1493" stroke-width="0.25" text-anchor="middle">BollRev</text>
<rect x="1466.9" y="0" width="1.4" height="759.2" fill="#c0c0c0"/>
<rect x="0" y="757.9" width="1468.3" height="1.3" fill="#c0c0c0"/>
<rect x="1468" y="39.95" width="4" height="1.3" fill="#c0c0c0"/>
<text x="1474.3" y="45" font-size="11" fill="#d0d0d0" textLength="38.4" lengthAdjust="spacingAndGlyphs">1.06300</text>
<rect x="1468" y="108.14" width="4" height="1.3" fill="#c0c0c0"/>
<text x="1474.3" y="113" font-size="11" fill="#d0d0d0" textLength="38.4" lengthAdjust="spacingAndGlyphs">1.06250</text>
<rect x="1468" y="176.33" width="4" height="1.3" fill="#c0c0c0"/>
<text x="1474.3" y="181" font-size="11" fill="#d0d0d0" textLength="38.4" lengthAdjust="spacingAndGlyphs">1.06200</text>
<rect x="1468" y="244.52" width="4" height="1.3" fill="#c0c0c0"/>
<text x="1474.3" y="250" font-size="11" fill="#d0d0d0" textLength="38.4" lengthAdjust="spacingAndGlyphs">1.06150</text>
<rect x="1468" y="312.71" width="4" height="1.3" fill="#c0c0c0"/>
<text x="1474.3" y="318" font-size="11" fill="#d0d0d0" textLength="38.4" lengthAdjust="spacingAndGlyphs">1.06100</text>
<rect x="1468" y="380.9" width="4" height="1.3" fill="#c0c0c0"/>
<text x="1474.3" y="386" font-size="11" fill="#d0d0d0" textLength="38.4" lengthAdjust="spacingAndGlyphs">1.06050</text>
<rect x="1468" y="449.09" width="4" height="1.3" fill="#c0c0c0"/>
<text x="1474.3" y="454" font-size="11" fill="#d0d0d0" textLength="38.4" lengthAdjust="spacingAndGlyphs">1.06000</text>
<rect x="1468" y="517.28" width="4" height="1.3" fill="#c0c0c0"/>
<text x="1474.3" y="522" font-size="11" fill="#d0d0d0" textLength="38.4" lengthAdjust="spacingAndGlyphs">1.05950</text>
<rect x="1468" y="585.47" width="4" height="1.3" fill="#c0c0c0"/>
<text x="1474.3" y="591" font-size="11" fill="#d0d0d0" textLength="38.4" lengthAdjust="spacingAndGlyphs">1.05900</text>
<rect x="1468" y="653.66" width="4" height="1.3" fill="#c0c0c0"/>
<text x="1474.3" y="659" font-size="11" fill="#d0d0d0" textLength="38.4" lengthAdjust="spacingAndGlyphs">1.05850</text>
<rect x="1468" y="721.85" width="4" height="1.3" fill="#c0c0c0"/>
<text x="1474.3" y="727" font-size="11" fill="#d0d0d0" textLength="38.4" lengthAdjust="spacingAndGlyphs">1.05800</text>
<rect x="24.88" y="759" width="1.3" height="4" fill="#c0c0c0"/>
<text x="12.53" y="778" font-size="11" fill="#d0d0d0" textLength="26.8" lengthAdjust="spacingAndGlyphs">15:48</text>
<rect x="77.82" y="759" width="1.3" height="4" fill="#c0c0c0"/>
<text x="65.47" y="778" font-size="11" fill="#d0d0d0" textLength="26.8" lengthAdjust="spacingAndGlyphs">15:50</text>
<rect x="130.75" y="759" width="1.3" height="4" fill="#c0c0c0"/>
<text x="118.4" y="778" font-size="11" fill="#d0d0d0" textLength="26.8" lengthAdjust="spacingAndGlyphs">15:51</text>
<rect x="183.69" y="759" width="1.3" height="4" fill="#c0c0c0"/>
<text x="171.34" y="778" font-size="11" fill="#d0d0d0" textLength="26.8" lengthAdjust="spacingAndGlyphs">15:52</text>
<rect x="236.62" y="759" width="1.3" height="4" fill="#c0c0c0"/>
<text x="224.27" y="778" font-size="11" fill="#d0d0d0" textLength="26.8" lengthAdjust="spacingAndGlyphs">15:54</text>
<rect x="289.55" y="759" width="1.3" height="4" fill="#c0c0c0"/>
<text x="277.2" y="778" font-size="11" fill="#d0d0d0" textLength="26.8" lengthAdjust="spacingAndGlyphs">15:54</text>
<rect x="342.49" y="759" width="1.3" height="4" fill="#c0c0c0"/>
<text x="330.14" y="778" font-size="11" fill="#d0d0d0" textLength="26.8" lengthAdjust="spacingAndGlyphs">15:55</text>
<rect x="395.42" y="759" width="1.3" height="4" fill="#c0c0c0"/>
<text x="383.07" y="778" font-size="11" fill="#d0d0d0" textLength="26.8" lengthAdjust="spacingAndGlyphs">15:55</text>
<rect x="448.36" y="759" width="1.3" height="4" fill="#c0c0c0"/>
<text x="436.01" y="778" font-size="11" fill="#d0d0d0" textLength="26.8" lengthAdjust="spacingAndGlyphs">15:56</text>
<rect x="501.29" y="759" width="1.3" height="4" fill="#c0c0c0"/>
<text x="488.94" y="778" font-size="11" fill="#d0d0d0" textLength="26.8" lengthAdjust="spacingAndGlyphs">15:57</text>
<rect x="554.22" y="759" width="1.3" height="4" fill="#c0c0c0"/>
<text x="541.87" y="778" font-size="11" fill="#d0d0d0" textLength="26.8" lengthAdjust="spacingAndGlyphs">15:58</text>
<rect x="607.16" y="759" width="1.3" height="4" fill="#c0c0c0"/>
<text x="594.81" y="778" font-size="11" fill="#d0d0d0" textLength="26.8" lengthAdjust="spacingAndGlyphs">15:59</text>
<rect x="660.09" y="759" width="1.3" height="4" fill="#c0c0c0"/>
<text x="647.74" y="778" font-size="11" fill="#d0d0d0" textLength="26.8" lengthAdjust="spacingAndGlyphs">16:00</text>
<rect x="713.03" y="759" width="1.3" height="4" fill="#c0c0c0"/>
<text x="700.68" y="778" font-size="11" fill="#d0d0d0" textLength="26.8" lengthAdjust="spacingAndGlyphs">16:00</text>
<rect x="765.96" y="759" width="1.3" height="4" fill="#c0c0c0"/>
<text x="753.61" y="778" font-size="11" fill="#d0d0d0" textLength="26.8" lengthAdjust="spacingAndGlyphs">16:01</text>
<rect x="818.89" y="759" width="1.3" height="4" fill="#c0c0c0"/>
<text x="806.54" y="778" font-size="11" fill="#d0d0d0" textLength="26.8" lengthAdjust="spacingAndGlyphs">16:02</text>
<rect x="871.83" y="759" width="1.3" height="4" fill="#c0c0c0"/>
<text x="859.48" y="778" font-size="11" fill="#d0d0d0" textLength="26.8" lengthAdjust="spacingAndGlyphs">16:02</text>
<rect x="924.76" y="759" width="1.3" height="4" fill="#c0c0c0"/>
<text x="912.41" y="778" font-size="11" fill="#d0d0d0" textLength="26.8" lengthAdjust="spacingAndGlyphs">16:03</text>
<rect x="977.7" y="759" width="1.3" height="4" fill="#c0c0c0"/>
<text x="965.35" y="778" font-size="11" fill="#d0d0d0" textLength="26.8" lengthAdjust="spacingAndGlyphs">16:04</text>
<rect x="1030.63" y="759" width="1.3" height="4" fill="#c0c0c0"/>
<text x="1018.28" y="778" font-size="11" fill="#d0d0d0" textLength="26.8" lengthAdjust="spacingAndGlyphs">16:04</text>
<rect x="1083.56" y="759" width="1.3" height="4" fill="#c0c0c0"/>
<text x="1071.21" y="778" font-size="11" fill="#d0d0d0" textLength="26.8" lengthAdjust="spacingAndGlyphs">16:05</text>
<rect x="1136.5" y="759" width="1.3" height="4" fill="#c0c0c0"/>
<text x="1124.15" y="778" font-size="11" fill="#d0d0d0" textLength="26.8" lengthAdjust="spacingAndGlyphs">16:05</text>
<rect x="1189.43" y="759" width="1.3" height="4" fill="#c0c0c0"/>
<text x="1177.08" y="778" font-size="11" fill="#d0d0d0" textLength="26.8" lengthAdjust="spacingAndGlyphs">16:06</text>
<rect x="1242.37" y="759" width="1.3" height="4" fill="#c0c0c0"/>
<text x="1230.02" y="778" font-size="11" fill="#d0d0d0" textLength="26.8" lengthAdjust="spacingAndGlyphs">16:06</text>
<rect x="1295.3" y="759" width="1.3" height="4" fill="#c0c0c0"/>
<text x="1282.95" y="778" font-size="11" fill="#d0d0d0" textLength="26.8" lengthAdjust="spacingAndGlyphs">16:08</text>
<rect x="1348.23" y="759" width="1.3" height="4" fill="#c0c0c0"/>
<text x="1335.88" y="778" font-size="11" fill="#d0d0d0" textLength="26.8" lengthAdjust="spacingAndGlyphs">16:08</text>
<rect x="1401.17" y="759" width="1.3" height="4" fill="#c0c0c0"/>
<text x="1388.82" y="778" font-size="11" fill="#d0d0d0" textLength="26.8" lengthAdjust="spacingAndGlyphs">16:09</text>
<rect x="1454.1" y="759" width="1.3" height="4" fill="#c0c0c0"/>
<text x="1441.75" y="778" font-size="11" fill="#d0d0d0" textLength="26.8" lengthAdjust="spacingAndGlyphs">16:09</text>
<path d="M1462.2,505.1 L1467.6,498.1 L1518.4,498.1 L1518.4,512.1 L1467.6,512.1 Z" fill="#404046" stroke="#a8a8a8" stroke-width="1.3"/>
<text x="1474.3" y="509" font-size="11" fill="#ffffff" textLength="38.4" lengthAdjust="spacingAndGlyphs">1.05960</text>
<path d="M1462.2,559.1 L1467.6,552.1 L1518.4,552.1 L1518.4,566.1 L1467.6,566.1 Z" fill="#404046" stroke="#a8a8a8" stroke-width="1.3"/>
<text x="1474.3" y="563" font-size="11" fill="#ffffff" textLength="38.4" lengthAdjust="spacingAndGlyphs">1.05920</text>
<path d="M1462.2,593.1 L1467.6,586.1 L1518.4,586.1 L1518.4,600.1 L1467.6,600.1 Z" fill="#404046" stroke="#a8a8a8" stroke-width="1.3"/>
<text x="1474.3" y="597" font-size="11" fill="#ffffff" textLength="38.4" lengthAdjust="spacingAndGlyphs">1.05895</text>
<path d="M1462.2,675.1 L1467.6,668.1 L1518.4,668.1 L1518.4,682.1 L1467.6,682.1 Z" fill="#404046" stroke="#a8a8a8" stroke-width="1.3"/>
<text x="1474.3" y="679" font-size="11" fill="#ffffff" textLength="38.4" lengthAdjust="spacingAndGlyphs">1.05835</text>
<text x="4.2" y="14" font-size="11" fill="#d0d0d0" textLength="266.6" lengthAdjust="spacingAndGlyphs">Bollinger Reversal Pro by ninZa.co (6E 03-23 (4 Range))</text>
<text x="3.4" y="751" font-size="11" fill="#d0d0d0" textLength="117.2" lengthAdjust="spacingAndGlyphs">© 2023 NinjaTrader, LLC</text>
<text x="3.8" y="795" font-size="9" fill="#e4e4e4" textLength="34.6" lengthAdjust="spacingAndGlyphs">6E 03-23</text>
<path d="M1435,20.9 H1451.6 M1444.2,13.9 L1451.8,20.9 L1444.7,28.2" fill="none" stroke="#e0e0e0" stroke-width="2" stroke-linejoin="miter"/>
<g>
<path d="M1355.6,786 C1351,787 1348.8,790 1348.9,793 C1349,796.5 1351.5,799.3 1355,800.1 C1352.8,798 1351.8,795.5 1351.9,793 C1352,790.5 1353.2,788 1355.6,786 Z" fill="#b09a88"/>
<path d="M1356.2,786.2 L1358.8,786.3 L1360.7,800 L1359.2,799.2 L1357.3,793 Z" fill="#b8a696"/>
<path d="M1358.5,786.6 L1360.4,786.8 L1362.9,796.6 L1364.1,786.1 L1365.4,786.6 L1363.2,800.1 L1361.8,800 Z" fill="#d0202c"/>
<path d="M1364.7,786 C1367.5,787.2 1369,790 1368.9,793 C1368.8,796 1366.5,799 1363.3,800.1 C1365.5,797.5 1366.4,795 1366.4,792.5 C1366.4,790 1365.9,788 1364.7,786 Z" fill="#c8202a"/>
<g transform="translate(0,797.7) scale(1.4,1)"><text x="980.79 990.86 994.14 1004.57 1012.43" y="0" font-size="12.7" fill="#9a8674" stroke="#1e1e1e" stroke-width="0.5">NINJA</text></g>
<g transform="translate(0,797.6) scale(1.42,1)"><text x="1007.04 1016.06 1026.13 1036.06 1047.18 1056.13" y="0" font-size="12.7" fill="#c4222c">TRADER</text></g>
<text x="1512.6" y="792.3" font-size="5" fill="#c8202a">®</text>
</g>
</svg>
</body></html>
